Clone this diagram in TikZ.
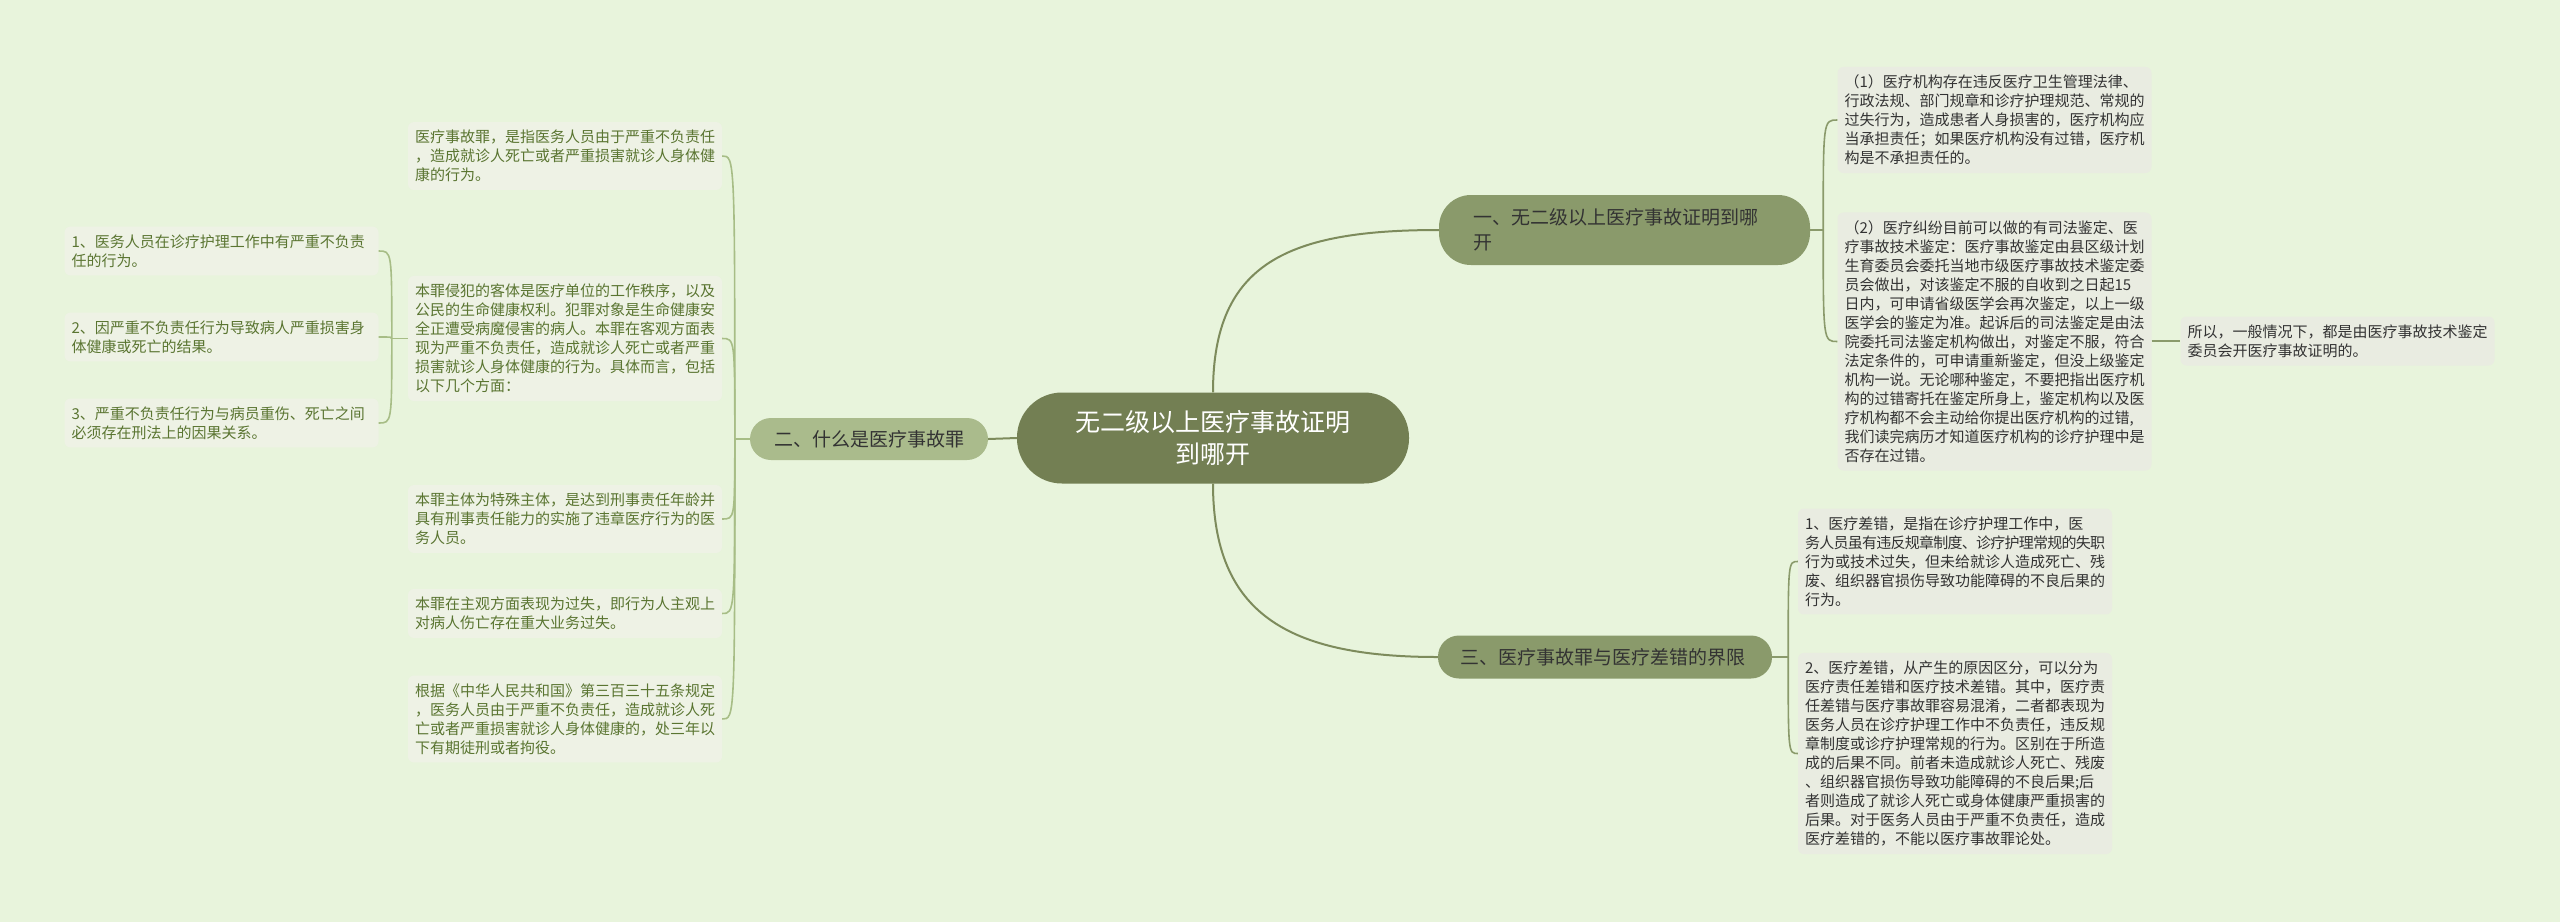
\documentclass[tikz,border=0pt]{standalone}
\usepackage{fontspec}
\newfontfamily\cjk{Noto Sans CJK SC}
\newcommand\leafFont{\cjk\fontsize{15}{19}\selectfont}
\newcommand\branchFont{\cjk\fontsize{19}{25}\selectfont}
\newcommand\rootFont{\cjk\fontsize{25}{32}\selectfont}

\begin{document}
\begin{tikzpicture}[x=1pt, y=-1pt,
    leaf/.style={fill=leafFillL, text=leafTextL, font=\leafFont, text width=300pt,
        align=left, inner xsep=7pt, inner ysep=8pt, rounded corners=6pt},
    leafR/.style={leaf, fill=leafFillR, text=leafTextR},
    branch/.style={fill=branchFill, text=branchText, font=\branchFont, align=left,
        rounded corners=21pt, minimum height=43pt, inner ysep=6pt},
    rootLine/.style={draw=rootLineColour, line width=2pt},
    brLine/.style={draw=branchFill, line width=1.6pt},
    leftLine/.style={draw=leftLineColour, line width=1.6pt}]
    \definecolor{bgColour}{HTML}{E8F4DC}
    \definecolor{rootFill}{HTML}{737F53}
    \definecolor{branchFill}{HTML}{8A9A6B}
    \definecolor{branchFillL}{HTML}{AABB8C}
    \definecolor{branchText}{HTML}{333333}
    \definecolor{leafFillL}{HTML}{EEF2E5}
    \definecolor{leafFillR}{HTML}{E9ECE1}
    \definecolor{leafTextL}{HTML}{5A7531}
    \definecolor{leafTextR}{HTML}{333333}
    \definecolor{rootLineColour}{HTML}{7D8B5C}
    \definecolor{leftLineColour}{HTML}{A7BD86}

    % Background
    \fill[bgColour] (0,0) rectangle (2560,922);

    % Central topic
    \node[fill=rootFill, text=white, font=\rootFont, align=center, text width=300pt,
        minimum width=392pt, minimum height=91pt, rounded corners=45pt] (root) at (1213,438)
        {无二级以上医疗事故证明\\到哪开};

    % Main branches
    \node[branch, text width=303pt, inner xsep=34pt, minimum height=70pt, rounded corners=32pt] (b1) at (1624.5,230)
        {一、无二级以上医疗事故证明到哪\\开};
    \node[branch, text width=290pt, inner xsep=22pt] (b3) at (1605,657)
        {三、医疗事故罪与医疗差错的界限};
    \node[branch, fill=branchFillL, inner xsep=24pt, minimum height=42pt] (b2) at (869,439)
        {二、什么是医疗事故罪};

    % Right leaves
    \node[leafR] (r1) at (1994.5,120)
        {（1）医疗机构存在违反医疗卫生管理法律、\\行政法规、部门规章和诊疗护理规范、常规的\\过失行为，造成患者人身损害的，医疗机构应\\当承担责任；如果医疗机构没有过错，医疗机\\构是不承担责任的。};
    \node[leafR] (r2) at (1994.5,341.5)
        {（2）医疗纠纷目前可以做的有司法鉴定、医\\疗事故技术鉴定：医疗事故鉴定由县区级计划\\生育委员会委托当地市级医疗事故技术鉴定委\\员会做出，对该鉴定不服的自收到之日起15\\日内，可申请省级医学会再次鉴定，以上一级\\医学会的鉴定为准。起诉后的司法鉴定是由法\\院委托司法鉴定机构做出，对鉴定不服，符合\\法定条件的，可申请重新鉴定，但没上级鉴定\\机构一说。无论哪种鉴定，不要把指出医疗机\\构的过错寄托在鉴定所身上，鉴定机构以及医\\疗机构都不会主动给你提出医疗机构的过错,\\我们读完病历才知道医疗机构的诊疗护理中是\\否存在过错。};
    \node[leafR] (r3) at (2337.5,341)
        {所以，一般情况下，都是由医疗事故技术鉴定\\委员会开医疗事故证明的。};
    \node[leafR] (r4) at (1955,561.5)
        {1、医疗差错，是指在诊疗护理工作中，医\\{\addfontfeatures{LetterSpace=-5}务人员虽有违反规章制度、诊疗护理常规的失职}\\行为或技术过失，但未给就诊人造成死亡、残\\废、组织器官损伤导致功能障碍的不良后果的\\行为。};
    \node[leafR] (r5) at (1955,753.5)
        {2、医疗差错，从产生的原因区分，可以分为\\医疗责任差错和医疗技术差错。其中，医疗责\\任差错与医疗事故罪容易混淆，二者都表现为\\医务人员在诊疗护理工作中不负责任，违反规\\章制度或诊疗护理常规的行为。区别在于所造\\成的后果不同。前者未造成就诊人死亡、残废\\、组织器官损伤导致功能障碍的不良后果;后\\者则造成了就诊人死亡或身体健康严重损害的\\后果。对于医务人员由于严重不负责任，造成\\医疗差错的，不能以医疗事故罪论处。};

    % Left leaves
    \node[leaf] (l1) at (565,156)
        {医疗事故罪，是指医务人员由于严重不负责任\\，造成就诊人死亡或者严重损害就诊人身体健\\康的行为。};
    \node[leaf] (l2) at (565,338.5)
        {本罪侵犯的客体是医疗单位的工作秩序，以及\\公民的生命健康权利。犯罪对象是生命健康安\\全正遭受病魔侵害的病人。本罪在客观方面表\\现为严重不负责任，造成就诊人死亡或者严重\\损害就诊人身体健康的行为。具体而言，包括\\以下几个方面：};
    \node[leaf] (l3) at (565,519)
        {本罪主体为特殊主体，是达到刑事责任年龄并\\具有刑事责任能力的实施了违章医疗行为的医\\务人员。};
    \node[leaf] (l4) at (565,613.5)
        {本罪在主观方面表现为过失，即行为人主观上\\对病人伤亡存在重大业务过失。};
    \node[leaf] (l5) at (565,719)
        {根据《中华人民共和国》第三百三十五条规定\\，医务人员由于严重不负责任，造成就诊人死\\亡或者严重损害就诊人身体健康的，处三年以\\下有期徒刑或者拘役。};

    % Far left leaves
    \node[leaf] (s1) at (221.5,251)
        {1、医务人员在诊疗护理工作中有严重不负责\\任的行为。};
    \node[leaf] (s2) at (221.5,337)
        {2、因严重不负责任行为导致病人严重损害身\\体健康或死亡的结果。};
    \node[leaf] (s3) at (221.5,423)
        {3、严重不负责任行为与病员重伤、死亡之间\\必须存在刑法上的因果关系。};

    % Root to branches
    \draw[rootLine] (root.north) .. controls +(0,-130) and +(-150,0) .. (b1.west);
    \draw[rootLine] (root.south) .. controls +(0,130) and +(-150,0) .. (b3.west);
    \draw[rootLine] (root.west) -- (b2.east);

    % Branch one
    \coordinate (j1) at ([xshift=13pt]b1.east);
    \draw[brLine] (b1.east) -- (j1);
    \foreach \n in {r1,r2}
        \draw[brLine] (j1) .. controls (j1 |- \n.west) .. (\n.west);
    \draw[brLine] (r2.east |- r3.west) -- (r3.west);

    % Branch three
    \coordinate (j3) at ([xshift=16pt]b3.east);
    \draw[brLine] (b3.east) -- (j3);
    \foreach \n in {r4,r5}
        \draw[brLine] (j3) .. controls (j3 |- \n.west) .. (\n.west);

    % Branch two
    \coordinate (j2) at ([xshift=-15pt]b2.west);
    \draw[leftLine] (b2.west) -- (j2);
    \foreach \n in {l1,l2,l3,l4,l5}
        \draw[leftLine] (j2) .. controls (j2 |- \n.east) .. (\n.east);

    % Sub points
    \coordinate (j4) at ([xshift=-16pt]l2.west);
    \draw[leftLine] (l2.west) -- (j4);
    \foreach \n in {s1,s2,s3}
        \draw[leftLine] (j4) .. controls (j4 |- \n.east) .. (\n.east);

\end{tikzpicture}
\end{document}
